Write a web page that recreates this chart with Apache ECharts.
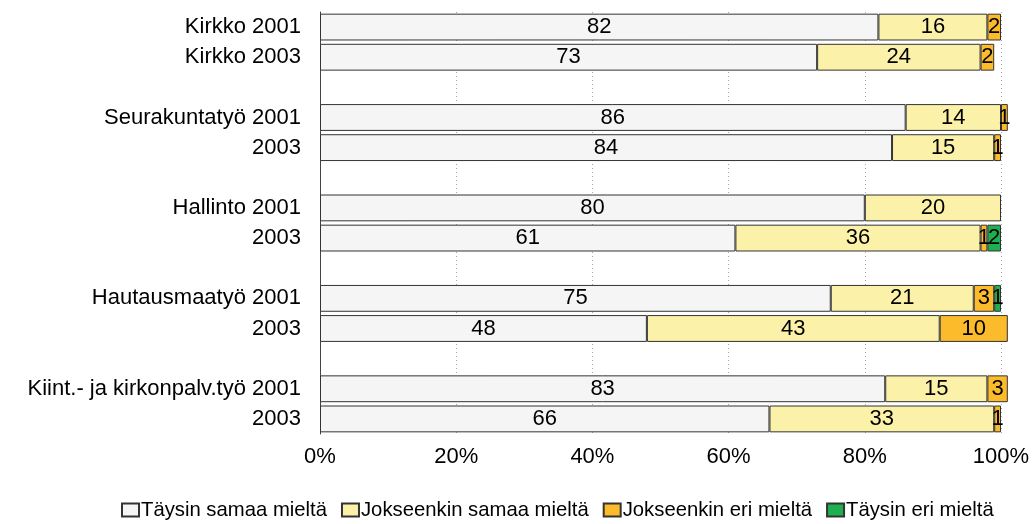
<!DOCTYPE html>
<html>
<head>
<meta charset="utf-8">
<script src="https://cdn.jsdelivr.net/npm/echarts@6/dist/echarts.min.js"></script>
<style>
  html, body { margin: 0; padding: 0; background: #fff; }
  #chart { width: 1033px; height: 524px; }
</style>
</head>
<body>
<div id="chart"></div>
<script>
// Row labels, blank entries leave a gap between groups
const categories = [
  'Kirkko 2001', 'Kirkko 2003', '',
  'Seurakuntatyö 2001', '2003', '',
  'Hallinto 2001', '2003', '',
  'Hautausmaatyö 2001', '2003', '',
  'Kiint.- ja kirkonpalv.työ 2001', '2003'
];

const seriesNames = [
  'Täysin samaa mieltä',
  'Jokseenkin samaa mieltä',
  'Jokseenkin eri mieltä',
  'Täysin eri mieltä'
];

// Shares (%) per row; '-' marks no value / gap row
const taysinSamaa      = [82, 73, '-', 86, 84, '-', 80, 61, '-', 75, 48, '-', 83, 66];
const jokseenkinSamaa  = [16, 24, '-', 14, 15, '-', 20, 36, '-', 21, 43, '-', 15, 33];
const jokseenkinEri    = [2, 2, '-', 1, 1, '-', '-', 1, '-', 3, 10, '-', 3, 1];
const taysinEri        = ['-', '-', '-', '-', '-', '-', '-', 2, '-', 1, '-', '-', '-', '-'];

const tickValues = [0, 20, 40, 60, 80, 100];

const colors = ['#f5f5f5', '#fbf1a9', '#fbbb2b', '#1eb050'];
const seriesData = [taysinSamaa, jokseenkinSamaa, jokseenkinEri, taysinEri];

const chart = echarts.init(document.getElementById('chart'));

chart.setOption({
  animation: false,
  textStyle: { fontFamily: 'Liberation Sans, Arial, sans-serif' },
  grid: { left: 320, right: 32, top: 12, bottom: 90, containLabel: false },
  legend: {
    bottom: -1,
    left: 116,
    itemWidth: 17,
    itemHeight: 13,
    itemGap: 14,
    icon: 'rect',
    textStyle: { fontSize: 20.3, color: '#000', padding: [0, 0, 0, -3] },
    data: seriesNames
  },
  xAxis: {
    type: 'value',
    min: 0,
    max: 100,
    interval: 20,
    axisLine: { show: false },
    axisTick: { show: false },
    axisLabel: {
      color: '#000',
      fontSize: 22,
      margin: 12,
      formatter: v => tickValues.includes(v) ? v + '%' : ''
    },
    splitLine: {
      show: true,
      lineStyle: { color: '#a8a8a8', type: [1, 3], width: 1 }
    }
  },
  yAxis: {
    type: 'category',
    inverse: true,
    data: categories,
    axisLine: { show: true, lineStyle: { color: '#444', width: 1 } },
    axisTick: { show: false },
    axisLabel: { color: '#000', fontSize: 22, margin: 19 }
  },
  series: seriesData.map((d, i) => ({
    name: seriesNames[i],
    type: 'bar',
    stack: 'total',
    barWidth: '89%',
    clip: false,
    data: d,
    itemStyle: { color: colors[i], borderColor: '#333', borderWidth: 1 },
    label: {
      show: true,
      position: 'inside',
      color: '#000',
      fontSize: 22
    }
  }))
});
</script>
</body>
</html>
